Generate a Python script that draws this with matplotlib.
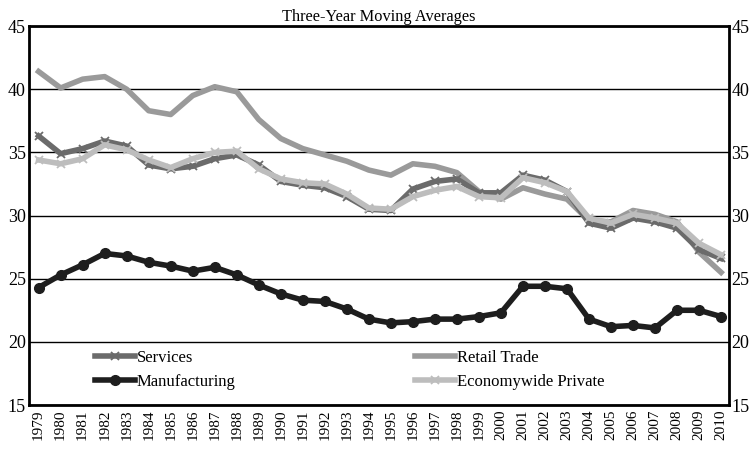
import numpy as np
import matplotlib
matplotlib.use('Agg')
import matplotlib.pyplot as plt

plt.rcParams['font.family'] = ['Liberation Serif', 'DejaVu Serif']

anos = list(range(1979, 2011))

servicos = [36.3, 34.9, 35.3, 35.9, 35.5, 34.0, 33.7, 33.9, 34.5, 34.8,
            34.0, 32.7, 32.4, 32.2, 31.5, 30.5, 30.4, 32.1, 32.7, 32.9,
            31.8, 31.8, 33.2, 32.8, 31.9, 29.4, 29.0, 29.8, 29.5, 29.0,
            27.3, 26.6]
varejo = [41.4, 40.1, 40.8, 41.0, 40.0, 38.3, 38.0, 39.5, 40.2, 39.8,
          37.6, 36.1, 35.3, 34.8, 34.3, 33.6, 33.2, 34.1, 33.9, 33.4,
          31.9, 31.3, 32.2, 31.7, 31.3, 29.6, 29.5, 30.4, 30.1, 29.5,
          27.1, 25.5]
manufatura = [24.3, 25.3, 26.1, 27.0, 26.8, 26.3, 26.0, 25.6, 25.9, 25.3,
              24.5, 23.8, 23.3, 23.2, 22.6, 21.8, 21.5, 21.6, 21.8, 21.8,
              22.0, 22.3, 24.4, 24.4, 24.2, 21.8, 21.2, 21.3, 21.1, 22.5,
              22.5, 22.0]
economia = [34.4, 34.1, 34.5, 35.6, 35.2, 34.4, 33.8, 34.5, 35.0, 35.1,
            33.7, 32.9, 32.6, 32.5, 31.7, 30.6, 30.5, 31.5, 32.0, 32.3,
            31.5, 31.4, 33.0, 32.6, 31.9, 29.8, 29.4, 30.1, 29.8, 29.4,
            27.8, 26.9]

fig = plt.figure(figsize=(7.56, 4.5), dpi=100)
ax = fig.add_axes([0.038, 0.1, 0.926, 0.842])

l_serv, = ax.plot(anos, servicos, color='#6b6b6b', lw=4, marker='x', ms=6,
                  mew=1.3, label='Services', zorder=3)
l_var, = ax.plot(anos, varejo, color='#9a9a9a', lw=4, label='Retail Trade',
                 zorder=2)
l_man, = ax.plot(anos, manufatura, color='#1e1e1e', lw=4, marker='o', ms=7,
                 label='Manufacturing', zorder=4)
l_eco, = ax.plot(anos, economia, color='#bdbdbd', lw=4, marker='x', ms=6,
                 mew=1.3, label='Economywide Private', zorder=3)

ax.set_xlim(1978.55, 2010.35)
ax.set_ylim(15, 45)
ax.set_yticks([15, 20, 25, 30, 35, 40, 45])
ax.set_xticks(anos)
ax.set_xticklabels([str(a) for a in anos], rotation=90, fontsize=11)
ax.tick_params(axis='y', labelsize=13, length=0, pad=2,
               labelleft=True, labelright=True)
ax.tick_params(axis='x', length=0, pad=3)
ax.yaxis.grid(True, color='black', lw=1)
ax.set_axisbelow(True)
for s in ax.spines.values():
    s.set_linewidth(2)

ax.set_title('Three-Year Moving Averages', fontsize=11.8, pad=4)

# ordem: coluna 1 = Services/Manufacturing, coluna 2 = Retail/Economywide
ax.legend([l_serv, l_man, l_var, l_eco],
          ['Services', 'Manufacturing', 'Retail Trade', 'Economywide Private'],
          ncol=2, loc='lower left', bbox_to_anchor=(0.085, 0.022),
          frameon=False, fontsize=12, handlelength=2.4, handletextpad=0.1,
          columnspacing=10.8, labelspacing=0.5, borderaxespad=0)

fig.savefig('out.png', dpi=100)
